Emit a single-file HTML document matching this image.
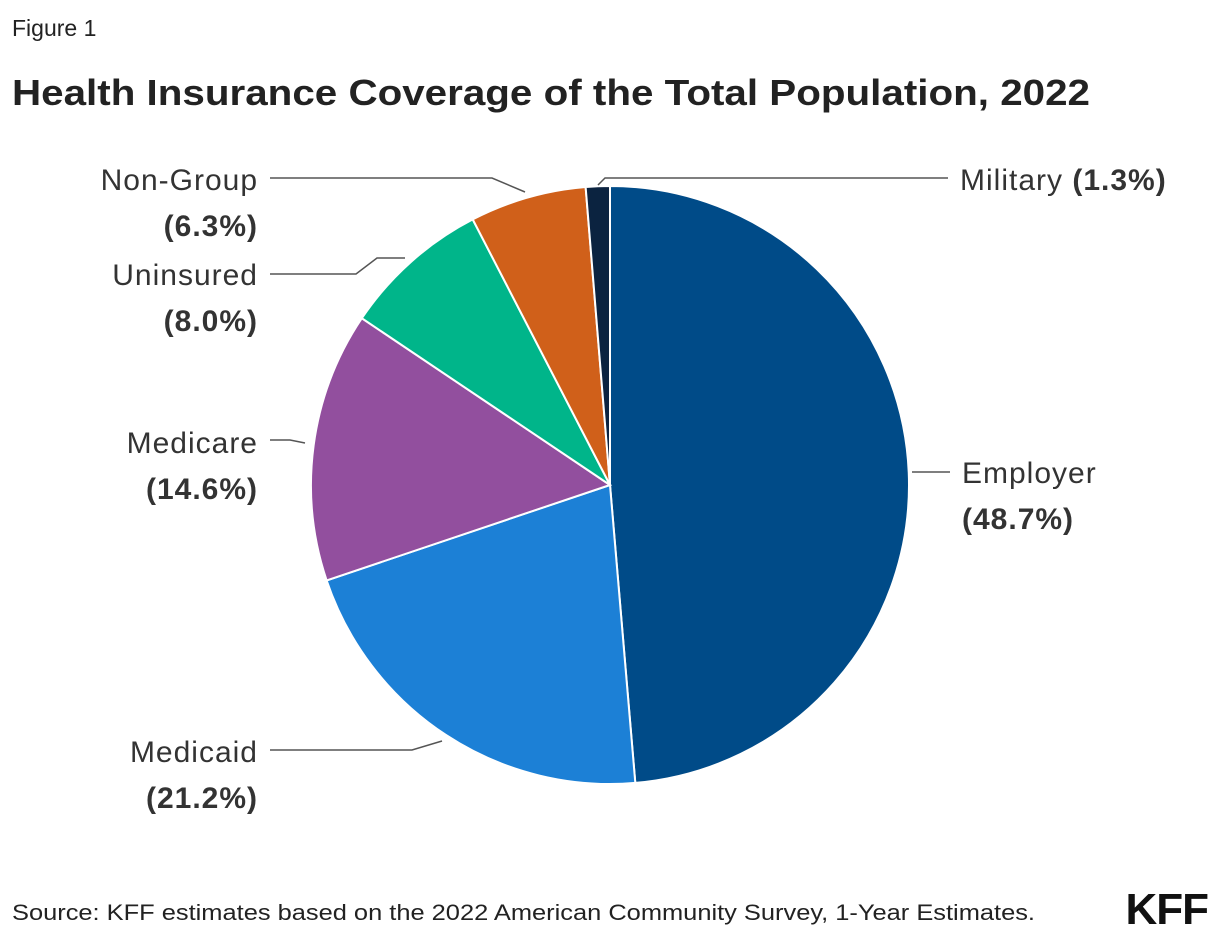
<!DOCTYPE html>
<html><head><meta charset="utf-8">
<style>
body{margin:0;width:1220px;height:942px;background:#fff;font-family:"Liberation Sans",sans-serif;overflow:hidden}
svg{position:absolute;left:0;top:0}
</style></head>
<body>
<svg width="1220" height="942">
<text x="12" y="36" font-size="23" fill="#222">Figure 1</text>
<text x="12" y="105" font-size="36" font-weight="bold" fill="#222" textLength="1078" lengthAdjust="spacingAndGlyphs">Health Insurance Coverage of the Total Population, 2022</text>
<g id="pie"></g>
<g id="labels" font-size="30" fill="#333" letter-spacing="1"></g>
<text x="12" y="920" font-size="22" fill="#222" textLength="1023" lengthAdjust="spacingAndGlyphs">Source: KFF estimates based on the 2022 American Community Survey, 1-Year Estimates.</text>
<text x="1208" y="924" font-size="44" font-weight="bold" fill="#111" text-anchor="end" letter-spacing="-1">KFF</text>
</svg>
<script>
const categories=["Employer","Medicaid","Medicare","Uninsured","Non-Group","Military"];
const values=[48.7,21.2,14.6,8.0,6.3,1.3];
const colors=["#004b88","#1c80d6","#924f9e","#00b58a","#d0601a","#0b2340"];
const cx=610,cy=485,r=299;
const NS="http://www.w3.org/2000/svg";
const total=values.reduce((a,b)=>a+b,0);
const pie=document.getElementById('pie');
let a0=0;
function pt(a,rr){return [cx+rr*Math.sin(a),cy-rr*Math.cos(a)];}
values.forEach((v,i)=>{
  const a1=a0+v/total*2*Math.PI;
  const p0=pt(a0,r),p1=pt(a1,r);
  const p=document.createElementNS(NS,'path');
  p.setAttribute('d',`M${cx},${cy}L${p0[0]},${p0[1]}A${r},${r} 0 ${a1-a0>Math.PI?1:0} 1 ${p1[0]},${p1[1]}Z`);
  p.setAttribute('fill',colors[i]);p.setAttribute('stroke','#fff');p.setAttribute('stroke-width','2');
  
  
  pie.appendChild(p);
  a0=a1;
});
const L=document.getElementById('labels');
const lines=[
 "912,472 950,472",
 "270,750 412,750 442,741",
 "270,440 290,440 305,443",
 "270,274 356,274 377,258 405,258",
 "270,178 492,178 525,192",
 "948,178 605,178 598,185"];
const pos=[[962,483,'start'],[258,762,'end'],[258,453,'end'],[258,285,'end'],[258,190,'end'],[960,190,'start']];
categories.forEach((c,i)=>{
  const pl=document.createElementNS(NS,'polyline');
  pl.setAttribute('points',lines[i]);pl.setAttribute('fill','none');pl.setAttribute('stroke','#555');pl.setAttribute('stroke-width','1.5');
  
  
  L.appendChild(pl);
  const t=document.createElementNS(NS,'text');
  t.setAttribute('x',pos[i][0]);t.setAttribute('y',pos[i][1]);t.setAttribute('text-anchor',pos[i][2]);
  
  
  const pct='('+values[i].toFixed(1)+'%)';
  if(c==="Military"){
    t.innerHTML=c+' <tspan font-weight="bold">'+pct+'</tspan>';
  }else{
    t.innerHTML=c+'<tspan x="'+pos[i][0]+'" dy="46" font-weight="bold">'+pct+'</tspan>';
  }
  L.appendChild(t);
});
</script>
</body></html>
